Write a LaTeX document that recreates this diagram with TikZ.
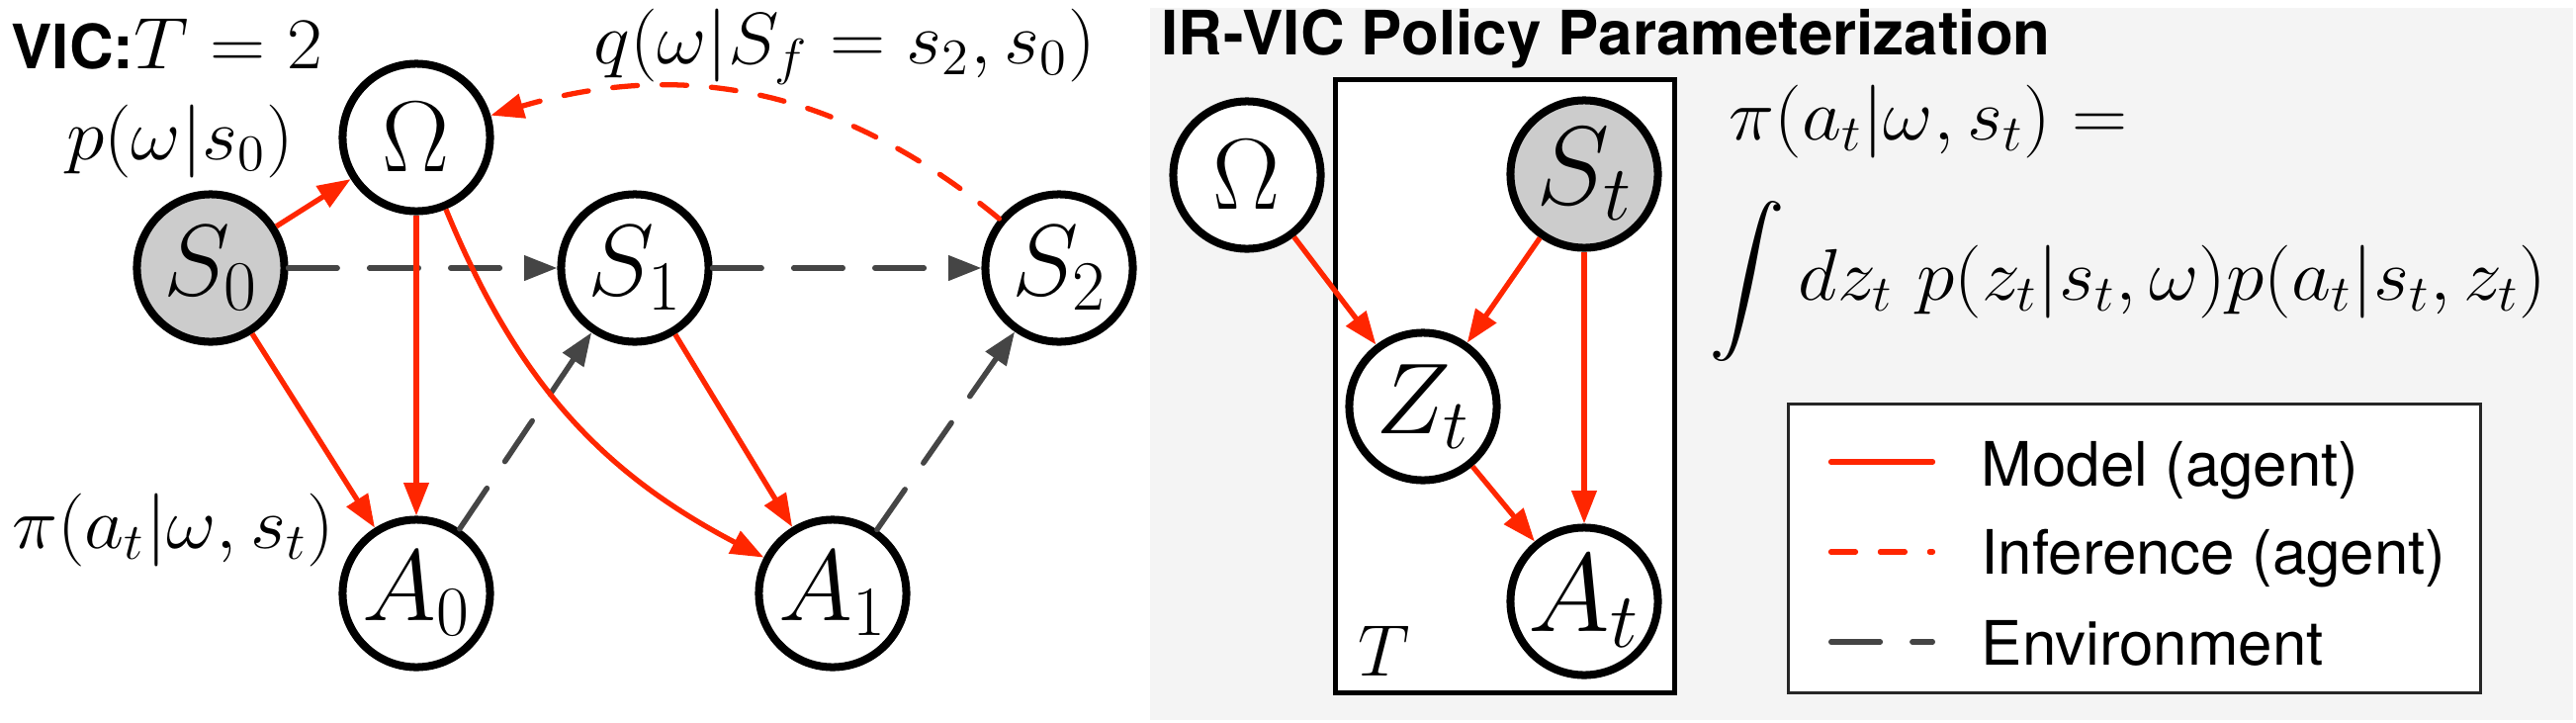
\RequirePackage{fix-cm}
\documentclass[tikz,border=0pt]{standalone}
\usepackage{exscale}
\usepackage{graphicx}
\usepackage{fontspec}
\newfontfamily\helv{TeX Gyre Heros}
\usetikzlibrary{arrows.meta}

\definecolor{agentred}{HTML}{FF2600}
\definecolor{envgray}{HTML}{454545}
\definecolor{obsfill}{HTML}{CCCCCC}
\definecolor{panelbg}{HTML}{F4F4F4}

\newcommand\varsize{\fontsize{29}{33}\selectfont}
\newcommand\bigvarsize{\fontsize{32}{36}\selectfont}
\newcommand\mathsize{\fontsize{21}{25}\selectfont}
\newcommand\sanssize{\fontsize{17.6}{21}\selectfont\helv}
% formulas are set slightly wide
\newcommand\wideeq[1]{\scalebox{1.055}[1]{#1}}

\begin{document}
\begin{tikzpicture}[x=0.01cm,y=-0.01cm,
  var/.style={circle, draw=black, line width=2.28pt, minimum size=1.49cm,
    inner sep=0pt, fill=white, font=\varsize},
  obs/.style={var, fill=obsfill},
  tip/.style={-{Triangle[length=9.5pt,width=7pt]}},
  modelline/.style={draw=agentred, line width=1.5pt},
  inferline/.style={modelline, dash pattern=on 7.1pt off 7.1pt, line cap=round},
  envline/.style={draw=envgray, line width=1.56pt, dash pattern=on 14.1pt off 9.25pt, line cap=round},
  model/.style={modelline, tip},
  infer/.style={inferline, tip},
  env/.style={envline, tip},
  txt/.style={inner sep=0pt, font=\mathsize}]

\useasboundingbox (0,0) rectangle (2605,730);

% ---------- left: VIC graphical model ----------
\node[txt, anchor=base west] (vic) at (11,69) {{\sanssize\bfseries VIC:}\wideeq{$T = 2$}};
\node[txt] (pw) at (182,143) {\wideeq{$p(\omega|s_0)$}};
\node[txt] (qw) at (854,47) {\wideeq{$q(\omega|S_f = s_2, s_0)$}};
\node[txt] (pil) at (175,536) {\wideeq{$\pi(a_t|\omega, s_t)$}};

\node[obs] (s0) at (213,271) {$S_0$};
\node[var] (om) at (421,139) {$\Omega$};
\node[var] (s1) at (642,271) {$S_1$};
\node[var] (s2) at (1071,271) {$S_2$};
\node[var] (a0) at (421,600) {$A_0$};
\node[var] (a1) at (842,600) {$A_1$};

\draw[env] (s0) -- (s1);
\draw[env] (s1) -- (s2);
\draw[env] (a0) -- (s1);
\draw[env] (a1) -- (s2);
\draw[model] (s0) -- (om);
\draw[model] (s0) -- (a0);
\draw[model] (om) -- (a0);
\draw[model] (om) to[bend right=20] (a1);
\draw[model] (s1) -- (a1);
\draw[infer] (s2) to[bend right=28] (om);

% ---------- right: IR-VIC policy parameterization ----------
\fill[panelbg] (1163,8) rectangle (2602,728);
\node[anchor=base west, inner sep=0pt, font=\sanssize\bfseries] (ttl) at (1174,55)
  {IR-VIC Policy Parameterization};

% plate
\draw[line width=1.42pt, fill=white] (1350.5,80.5) rectangle (1693.5,700.5);
\node[txt, anchor=base west] (tlab) at (1373,683) {$T$};

\node[var] (om2) at (1261,177) {$\Omega$};
\node[obs, font=\bigvarsize] (st) at (1602,176) {$S_t$};
\node[var] (zt) at (1439,411) {$Z_t$};
\node[var, font=\bigvarsize] (at) at (1602,608) {$A_t$};

\draw[model] (om2) -- (zt);
\draw[model] (st) -- (zt);
\draw[model] (st) -- (at);
\draw[model] (zt) -- (at);

% policy equation
\node[txt] (eq1) at (1950,123) {\wideeq{$\pi(a_t|\omega, s_t) =$}};
\node[txt] (eq2) at (2152,285)
  {\wideeq{$\displaystyle\int dz_t\ p(z_t|s_t,\omega)p(a_t|s_t,z_t)$}};

% legend
\draw[line width=0.85pt, draw=black!85, fill=white] (1808.5,408.5) rectangle (2508.5,700.5);
\coordinate (l1a) at (1851.5,467); \coordinate (l1b) at (1954.5,467);
\coordinate (l2a) at (1851.5,558); \coordinate (l2b) at (1954.5,558);
\coordinate (l3a) at (1851.75,649); \coordinate (l3b) at (1954.25,649);
\draw[modelline, line cap=round] (l1a) -- (l1b);
\draw[inferline] (l2a) -- (l2b);
\draw[envline] (l3a) -- (l3b);
\node[anchor=base west, inner sep=0pt, font=\sanssize] (lg1) at (2003,491) {Model (agent)};
\node[anchor=base west, inner sep=0pt, font=\sanssize] (lg2) at (2003,580) {Inference (agent)};
\node[anchor=base west, inner sep=0pt, font=\sanssize] (lg3) at (2003,672) {Environment};
\end{tikzpicture}
\end{document}
